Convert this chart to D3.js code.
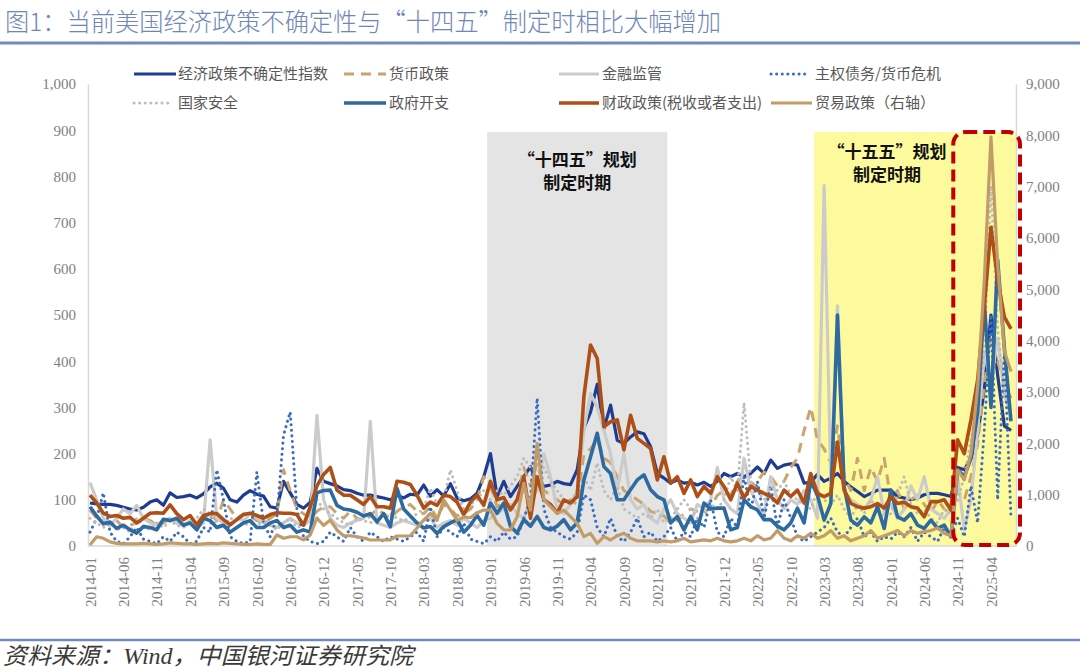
<!DOCTYPE html>
<html>
<head>
<meta charset="utf-8">
<script src="https://cdn.jsdelivr.net/npm/d3@7"></script>
<style>
  html, body { margin: 0; padding: 0; background: #fff; }
  svg { display: block; }
</style>
</head>
<body>
<svg id="chart" width="1080" height="671"></svg>
<script>
"use strict";

// ---- data (monthly, 2014-01 .. 2025-07) ----
const START_YEAR = 2014;
const N_MONTHS = 139;
const months = d3.range(N_MONTHS).map(i =>
  `${START_YEAR + Math.floor(i / 12)}-${String(i % 12 + 1).padStart(2, "0")}`);

const xTickLabels = [
  "2014-01","2014-06","2014-11","2015-04","2015-09","2016-02","2016-07",
  "2016-12","2017-05","2017-10","2018-03","2018-08","2019-01","2019-06",
  "2019-11","2020-04","2020-09","2021-02","2021-07","2021-12","2022-05",
  "2022-10","2023-03","2023-08","2024-01","2024-06","2024-11","2025-04"
];
const leftTicks  = [0, 100, 200, 300, 400, 500, 600, 700, 800, 900, 1000];
const rightTicks = [0, 1000, 2000, 3000, 4000, 5000, 6000, 7000, 8000, 9000];

// 经济政策不确定性指数
const epu = [
  93, 91, 90, 90, 88, 84, 80, 78, 84, 95, 100, 88,
  115, 105, 107, 110, 104, 113, 128, 136, 125, 100, 95, 110,
  120, 112, 108, 85, 82, 140, 115, 90, 82, 95, 168, 140,
  135, 130, 122, 120, 114, 110, 110, 107, 104, 100, 110, 104,
  112, 110, 132, 108, 122, 108, 135, 104, 98, 102, 114, 150,
  200, 107, 140, 107, 129, 150, 172, 135, 129, 132, 140, 135,
  133, 165, 255, 290, 350, 254, 305, 229, 222, 236, 247, 243,
  215, 157, 147, 136, 143, 136, 138, 132, 138, 129, 140, 157,
  150, 157, 150, 157, 171, 157, 186, 168, 175, 178, 175, 136,
  138, 155, 140, 147, 157, 140, 128, 118, 107, 114, 121, 121,
  121, 107, 104, 100, 104, 111, 114, 114, 111, 107, 170, 165,
  190, 240, 340, 500, 370, 260, 250
];
// 货币政策
const monetary = [
  78, 60, 50, 45, 55, 40, 45, 50, 60, 55, 45, 50,
  60, 50, 45, 55, 40, 60, 70, 55, 100, 80, 60, 70,
  65, 55, 50, 60, 70, 165, 120, 80, 70, 60, 75, 85,
  85, 70, 60, 75, 60, 55, 65, 80, 70, 60, 75, 85,
  90, 75, 70, 85, 60, 90, 80, 65, 70, 80, 100, 150,
  130, 85, 95, 80, 100, 170, 130, 180, 120, 110, 100, 90,
  100, 90, 200, 210, 230, 190, 180, 150, 120, 110, 100, 90,
  75, 70, 65, 50, 55, 70, 80, 75, 70, 85, 110, 120,
  110, 140, 150, 130, 140, 160, 150, 130, 140, 170, 190, 250,
  300, 230, 210, 180, 260, 150, 120, 190, 120, 170, 140, 190,
  100, 120, 80, 100, 110, 90, 70, 100, 80, 70, 120, 100,
  150, 220, 350, 450, 400, 350, 320
];
// 金融监管
const finReg = [
  137, 100, 60, 45, 60, 80, 70, 88, 60, 50, 45, 55,
  60, 50, 45, 55, 40, 50, 230, 60, 50, 45, 60, 55,
  70, 60, 50, 45, 40, 50, 60, 50, 45, 55, 283, 100,
  60, 45, 40, 50, 55, 60, 270, 50, 45, 40, 50, 55,
  50, 45, 55, 60, 40, 50, 55, 45, 60, 50, 40, 55,
  60, 70, 80, 90, 70, 60, 100, 120, 200, 150, 80, 70,
  90, 120, 250, 330, 300, 250, 200, 120, 200, 100, 80, 90,
  60, 50, 80, 100, 70, 60, 50, 90, 80, 100, 170, 100,
  80, 70, 190, 120, 90, 70, 150, 100, 80, 100, 90, 120,
  100, 60, 780, 140, 520, 120, 100, 90, 80, 100, 150, 70,
  90, 60, 80, 130, 100, 150, 80, 70, 60, 80, 150, 35,
  100, 250, 420, 350, 450, 330, 280
];
// 主权债务/货币危机
const sovDebt = [
  30, 60, 115, 30, 10, 5, 20, 40, 15, 10, 5, 20,
  10, 30, 20, 5, 10, 40, 30, 165, 100, 20, 10, 5,
  10, 160, 50, 20, 60, 240, 290, 80, 20, 10, 5, 10,
  30, 20, 10, 40, 20, 10, 30, 20, 10, 20, 15, 10,
  20, 30, 10, 85, 20, 40, 30, 20, 50, 15, 10, 5,
  20, 10, 30, 15, 20, 60, 100, 320, 80, 40, 30, 20,
  15, 30, 110, 100, 40, 20, 60, 20, 10, 30, 60, 20,
  30, 10, 20, 40, 10, 30, 20, 60, 40, 100, 30, 20,
  60, 40, 150, 80, 140, 60, 130, 40, 100, 60, 20, 10,
  20, 30, 40, 60, 30, 20, 40, 60, 20, 30, 10, 20,
  15, 30, 20, 40, 10, 30, 20, 10, 40, 20, 60, 20,
  130, 50, 250, 500, 100, 420, 60
];
// 国家安全
const natSec = [
  60, 50, 40, 55, 35, 40, 30, 60, 45, 35, 50, 40,
  55, 45, 40, 50, 60, 80, 70, 50, 40, 60, 55, 45,
  50, 40, 60, 45, 35, 50, 60, 40, 45, 70, 100, 80,
  70, 60, 50, 45, 60, 55, 50, 60, 65, 70, 60, 55,
  60, 70, 80, 125, 90, 100, 165, 120, 80, 90, 100, 120,
  100, 120, 110, 130, 150, 190, 170, 160, 170, 140, 120, 100,
  90, 120, 150, 120, 180, 120, 100, 130, 80, 70, 60, 70,
  60, 80, 50, 60, 80, 100, 80, 60, 70, 90, 80, 100,
  150, 120, 310, 140, 120, 100, 130, 120, 140, 110, 100, 90,
  80, 120, 100, 90, 110, 80, 60, 90, 70, 100, 80, 60,
  70, 110, 150, 90, 70, 80, 60, 50, 80, 70, 100, 150,
  230, 300, 420, 780, 470, 330, 300
];
// 政府开支
const govSpend = [
  85, 65, 48, 52, 38, 45, 35, 28, 42, 40, 35, 58,
  55, 60, 45, 50, 35, 60, 55, 40, 45, 30, 40, 50,
  55, 40, 40, 50, 55, 40, 45, 30, 35, 30, 115, 120,
  121, 88, 80, 78, 73, 65, 70, 52, 70, 42, 125, 80,
  65, 50, 39, 42, 27, 42, 50, 57, 30, 45, 66, 45,
  93, 71, 93, 43, 28, 57, 43, 64, 40, 35, 43, 57,
  35, 50, 143, 193, 244, 172, 157, 100, 100, 122, 143, 154,
  122, 107, 100, 50, 64, 35, 64, 35, 93, 80, 82, 82,
  35, 40, 100, 85, 78, 57, 57, 43, 35, 50, 82, 50,
  140, 110, 56, 92, 500, 128, 56, 45, 63, 50, 85, 38,
  121, 63, 56, 70, 45, 38, 56, 38, 45, 20, 165, 150,
  190, 290, 530, 300, 620, 430, 270
];
// 财政政策(税收或者支出)
const fiscal = [
  110, 93, 71, 64, 66, 60, 62, 50, 60, 71, 72, 71,
  89, 70, 57, 66, 46, 66, 70, 70, 57, 46, 57, 68,
  71, 66, 60, 68, 72, 71, 71, 68, 45, 85, 130, 155,
  170, 121, 110, 110, 100, 90, 107, 85, 85, 82, 140, 138,
  133, 110, 82, 95, 88, 110, 107, 95, 68, 95, 110, 88,
  140, 100, 105, 78, 100, 150, 60, 150, 100, 90, 71, 100,
  93, 107, 323, 435, 406, 258, 269, 273, 208, 283, 233, 222,
  211, 143, 193, 136, 150, 114, 143, 107, 129, 114, 150, 129,
  100, 136, 104, 129, 121, 114, 107, 93, 121, 107, 121, 93,
  157, 114, 107, 114, 225, 121, 92, 85, 82, 85, 92, 82,
  107, 92, 95, 85, 82, 63, 96, 96, 100, 78, 230, 200,
  273, 359, 518, 690, 576, 496, 470
];
// 贸易政策（右轴）
const trade = [
  20, 180, 150, 80, 50, 40, 40, 40, 50, 40, 30, 40,
  60, 50, 40, 40, 30, 40, 50, 40, 60, 50, 40, 30,
  30, 40, 30, 30, 214, 150, 180, 180, 120, 214, 545, 400,
  506, 312, 200, 200, 180, 156, 117, 117, 117, 117, 195, 195,
  200, 350, 506, 636, 500, 900, 700, 500, 565, 550, 650, 700,
  700, 440, 312, 312, 571, 1220, 700, 2000, 900, 766, 636, 700,
  571, 442, 182, 247, 52, 182, 117, 200, 250, 150, 100, 100,
  100, 80, 100, 80, 100, 150, 80, 100, 120, 100, 150, 100,
  80, 100, 150, 100, 200, 120, 150, 300, 150, 100, 200, 150,
  250, 150, 200, 300, 150, 200, 100, 150, 200, 300, 150, 200,
  250, 300, 200, 300, 250, 280, 300, 350, 250, 200, 1480, 1290,
  1805, 3100, 5180, 7970, 5500, 3800, 3400
];

// planning periods
const grayPeriod   = ["2019-01", "2021-03"];
const yellowPeriod = ["2023-02", "2025-07"];
const focusPeriod  = ["2024-11", "2025-07"];

const series = [
  { name: "经济政策不确定性指数", values: epu, color: "#1d3c92", width: 3.2, style: "solid", axis: "L" },
  { name: "货币政策", values: monetary, color: "#c9a46c", width: 3, style: "dash", axis: "L" },
  { name: "金融监管", values: finReg, color: "#cbcbcb", width: 3.2, style: "solid", axis: "L" },
  { name: "主权债务/货币危机", values: sovDebt, color: "#3a6cc0", width: 3, style: "dot", axis: "L" },
  { name: "国家安全", values: natSec, color: "#bdbdbd", width: 3, style: "dot", axis: "L" },
  { name: "政府开支", values: govSpend, color: "#2d6a9f", width: 3.6, style: "solid", axis: "L" },
  { name: "财政政策(税收或者支出)", values: fiscal, color: "#ad4f17", width: 3.6, style: "solid", axis: "L" },
  { name: "贸易政策（右轴）", values: trade, color: "#c29c68", width: 3.2, style: "solid", axis: "R" }
];

// ---- layout ----
const svg = d3.select("#chart");
const plot = { left: 88, right: 1016, top: 84, bottom: 546 };
const CJK = "'Noto Sans CJK SC', 'Noto Sans', sans-serif";
const SERIF = "'Liberation Serif', 'DejaVu Serif', serif";
const AXIS_GREY = "#808080";

const x = d3.scaleLinear().domain([0, N_MONTHS - 1]).range([90, 1011]);
const step = x(1) - x(0);
const yL = d3.scaleLinear().domain([0, 1000]).range([plot.bottom, plot.top]);
const yR = d3.scaleLinear().domain([0, 9000]).range([plot.bottom, plot.top]);
const idx = m => months.indexOf(m);

// title
svg.append("text")
  .attr("x", 5).attr("y", 31)
  .attr("font-family", CJK).attr("font-size", 25).attr("font-weight", 300)
  .attr("fill", "#6f86b7")
  .attr("textLength", 716).attr("lengthAdjust", "spacingAndGlyphs")
  .text("图1：当前美国经济政策不确定性与“十四五”制定时相比大幅增加");
svg.append("line").attr("x1", 0).attr("x2", 1080).attr("y1", 43).attr("y2", 43)
  .attr("stroke", "#7189bb").attr("stroke-width", 3);

// shaded periods
const shadeTop = yL(896);
svg.append("rect")
  .attr("x", x(idx(grayPeriod[0])) - step / 2)
  .attr("y", shadeTop)
  .attr("width", x(idx(grayPeriod[1])) - x(idx(grayPeriod[0])) + step)
  .attr("height", plot.bottom - shadeTop)
  .attr("fill", "#e4e4e4");
svg.append("rect")
  .attr("x", x(idx(yellowPeriod[0])) - step / 2)
  .attr("y", shadeTop)
  .attr("width", plot.right - (x(idx(yellowPeriod[0])) - step / 2))
  .attr("height", plot.bottom - shadeTop)
  .attr("fill", "#fdfa9e");

function periodLabel(cx, y0, lines) {
  lines.forEach((t, k) => {
    svg.append("text")
      .attr("x", cx).attr("y", y0 + k * 23)
      .attr("text-anchor", "middle")
      .attr("font-family", CJK).attr("font-size", 17).attr("font-weight", 700)
      .attr("fill", "#111").text(t);
  });
}
periodLabel((x(idx(grayPeriod[0])) + x(idx(grayPeriod[1]))) / 2, 166, ["“十四五”规划", "制定时期"]);
periodLabel(887, 158, ["“十五五”规划", "制定时期"]);

// axes
const axisL = svg.append("g").attr("transform", `translate(${plot.left},0)`)
  .call(d3.axisLeft(yL).tickValues(leftTicks).tickFormat(d3.format(",")).tickSize(0).tickPadding(12));
const axisR = svg.append("g").attr("transform", `translate(${plot.right},0)`)
  .call(d3.axisRight(yR).tickValues(rightTicks).tickFormat(d3.format(",")).tickSize(0).tickPadding(10));
[axisL, axisR].forEach(g => {
  g.select(".domain").attr("stroke", "#d9d9d9").attr("stroke-width", 1.5);
  g.selectAll("text").attr("font-family", SERIF).attr("font-size", 15).attr("fill", AXIS_GREY);
});

const axisB = svg.append("g").attr("transform", `translate(0,${plot.bottom})`)
  .call(d3.axisBottom(x).tickValues(xTickLabels.map(idx)).tickFormat(i => months[i]).tickSize(0));
axisB.select(".domain").remove();
axisB.selectAll("text")
  .attr("transform", "rotate(-90)")
  .attr("x", -11).attr("y", 0).attr("dy", "0.35em")
  .attr("text-anchor", "end")
  .attr("font-family", SERIF).attr("font-size", 15).attr("fill", AXIS_GREY);
svg.append("line").attr("x1", plot.left).attr("x2", plot.right)
  .attr("y1", plot.bottom).attr("y2", plot.bottom)
  .attr("stroke", "#d9d9d9").attr("stroke-width", 1.5);

// lines
function styleStroke(sel, s) {
  sel.attr("fill", "none").attr("stroke", s.color).attr("stroke-width", s.width)
    .attr("stroke-linejoin", "round");
  if (s.style === "dash") sel.attr("stroke-dasharray", "10,7");
  if (s.style === "dot") sel.attr("stroke-dasharray", "0.1,5.5").attr("stroke-linecap", "round");
  return sel;
}

series.forEach(s => {
  const yS = s.axis === "R" ? yR : yL;
  const line = d3.line().x((d, i) => x(i)).y(d => yS(d));
  styleStroke(svg.append("path").datum(s.values).attr("d", line), s);
});

// focus box
const fx0 = x(idx(focusPeriod[0])) - step / 2 - 1;
const fx1 = x(idx(focusPeriod[1])) + 9;
svg.append("rect")
  .attr("x", fx0).attr("y", shadeTop)
  .attr("width", fx1 - fx0).attr("height", plot.bottom - 1 - shadeTop)
  .attr("rx", 12).attr("ry", 12)
  .attr("fill", "none").attr("stroke", "#c00000").attr("stroke-width", 4)
  .attr("stroke-dasharray", "12,6");

// legend
const legendCols = [134, 344, 559, 771];
const legendRows = [74, 103];
const sampleLen = [42, 42, 40, 34];
series.forEach((s, k) => {
  const col = k % 4, row = Math.floor(k / 4);
  const lx = legendCols[col], ly = legendRows[row];
  let len = sampleLen[col];
  if (k === 7) len = 41;
  if (k === 4) len = 35;
  styleStroke(svg.append("line")
    .attr("x1", lx).attr("x2", lx + len).attr("y1", ly).attr("y2", ly), s);
  const tx = col === 3 ? 815 : (col === 0 ? 178 : lx + len + 3);
  svg.append("text")
    .attr("x", tx).attr("y", ly).attr("dy", "0.35em")
    .attr("font-family", CJK).attr("font-size", 15)
    .attr("fill", "#595959").text(s.name);
});

// footer
svg.append("line").attr("x1", 0).attr("x2", 1080).attr("y1", 640).attr("y2", 640)
  .attr("stroke", "#7189bb").attr("stroke-width", 2.5);
svg.append("text")
  .attr("x", 3).attr("y", 664)
  .attr("font-family", `${SERIF.split(",")[0]}, ${CJK}`).attr("font-size", 23)
  .attr("font-style", "italic").attr("fill", "#3a3a3a")
  .attr("textLength", 410).attr("lengthAdjust", "spacingAndGlyphs")
  .text("资料来源：Wind，中国银河证券研究院");
</script>
</body>
</html>
